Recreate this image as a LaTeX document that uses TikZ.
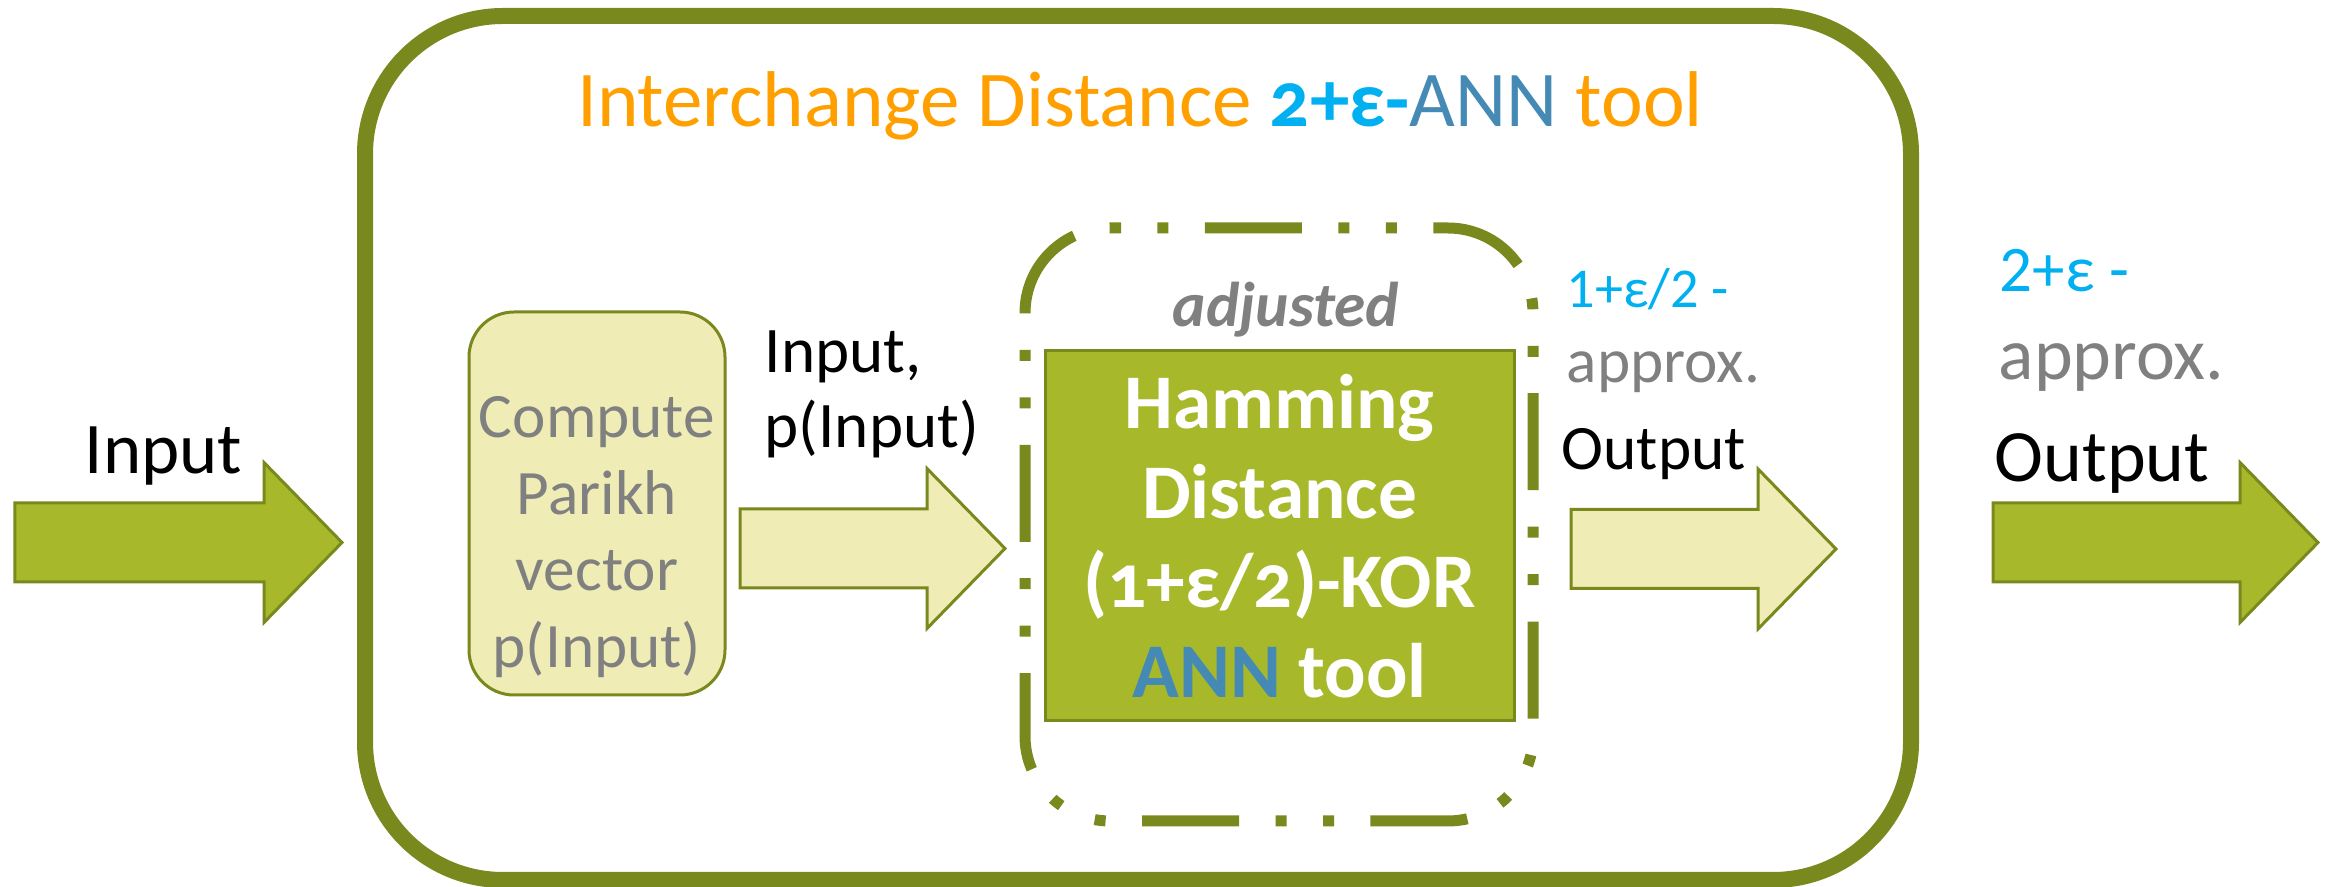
\documentclass[tikz,border=0pt]{standalone}
\usepackage{fontspec}
\setmainfont{Carlito}
\usetikzlibrary{calc}

\definecolor{olivedark}{RGB}{122,137,30}
\definecolor{olivefill}{RGB}{167,185,42}
\definecolor{palefill}{RGB}{239,237,181}
\definecolor{titleorange}{RGB}{255,160,0}
\definecolor{epscyan}{RGB}{0,176,240}
\definecolor{annblue}{RGB}{68,138,180}
\definecolor{labelgray}{RGB}{128,128,128}

% block arrow from tail coordinate to tip coordinate
\newcommand{\blockarrow}[3]{%
  \draw[#1] ($(#2)+(0,0.395)$) -- ($(#3)+(-0.78,0.395)$) -- ($(#3)+(-0.78,0.80)$) -- (#3)
    -- ($(#3)+(-0.78,-0.80)$) -- ($(#3)+(-0.78,-0.395)$) -- ($(#2)+(0,-0.395)$) -- cycle;}

\begin{document}
\begin{tikzpicture}[
  frame/.style = {draw=olivedark, line width=1.6mm, rounded corners=13.8mm, inner sep=0pt},
  adjline/.style = {draw=olivedark, line width=1.1mm, rounded corners=8.5mm,
    dash pattern=on 9.7mm off 3.647mm on 1.1mm off 3.647mm on 1.1mm off 3.647mm, dash phase=13.347mm},
  parikhbox/.style = {draw=olivedark, fill=palefill, line width=0.3mm, rounded corners=4.5mm, inner sep=0pt},
  korbox/.style = {draw=olivedark, fill=olivefill, line width=0.3mm, inner sep=0pt, align=center, text=white,
    font={\fontsize{22}{25.5}\selectfont\bfseries}},
  darkarrow/.style = {draw=olivedark, fill=olivefill, line width=0.3mm},
  palearrow/.style = {draw=olivedark, fill=palefill, line width=0.3mm},
  lbl/.style = {anchor=base west, inner sep=0pt}
]
\useasboundingbox (0,0) rectangle (23.29,8.86);

\node[frame, minimum width=154.6mm, minimum height=86.4mm] (toolframe) at (11.38,4.38) {};
\node[inner sep=0pt, anchor=base, text=titleorange, font={\fontsize{22.5}{26}\selectfont}] (title) at (11.40,7.59)
  {Interchange Distance {\color{epscyan}\bfseries\addfontfeatures{Numbers=OldStyle}2+ε-}{\color{annblue}ANN} tool};

\node[parikhbox, minimum width=25.6mm, minimum height=38.3mm] (parikh) at (5.97,3.825) {};
\node[inner sep=0pt, align=center, text=labelgray, font={\fontsize{18}{21.8}\selectfont}] (parikhtext) at (5.97,3.49)
  {Compute\\Parikh\\vector\\p(Input)};

% dash-dot-dot outline of the adjusted tool
\node[inner sep=0pt, outer sep=0pt, minimum width=50.8mm, minimum height=59.3mm] (adjusted) at (12.79,3.615) {};
\coordinate (adjstart) at ($(adjusted.north west)+(0.85,0)$);
\draw[adjline] (adjstart) -- (adjusted.north east) -- (adjusted.south east)
  -- (adjusted.south west) -- (adjusted.north west) -- (adjstart);
\node[inner sep=0pt, anchor=base, text=labelgray, font={\fontsize{18}{21}\selectfont\bfseries\itshape}] (adjlabel) at (12.86,5.59) {adjusted};
\node[korbox, minimum width=46.9mm, minimum height=37mm] (kor) at (12.795,3.50)
  {Hamming\\Distance\\{\addfontfeatures{Numbers=OldStyle}(1+ε/2)}-KOR\\\textcolor{annblue}{ANN} tool};

% input side
\node[lbl, font={\fontsize{20.7}{24}\selectfont}] (inlabel) at (0.84,4.12) {Input};
\coordinate (inTail) at (0.15,3.435);
\coordinate (inTip) at (3.42,3.435);
\blockarrow{darkarrow}{inTail}{inTip}

\node[inner sep=0pt, anchor=north west, align=left, font={\fontsize{18.5}{21.3}\selectfont}] (pairlabel) at (7.64,5.56) {Input,\\p(Input)};
\coordinate (pairTail) at (7.40,3.375);
\coordinate (pairTip) at (10.05,3.375);
\blockarrow{palearrow}{pairTail}{pairTip}

% inner output
\node[lbl, text=epscyan, font={\fontsize{16}{19}\selectfont}] (korfactor) at (15.66,5.78) {1+ε/2 -};
\node[lbl, text=labelgray, font={\fontsize{18}{21}\selectfont}] (korapprox) at (15.66,5.03) {approx.};
\node[lbl, font={\fontsize{18}{21}\selectfont}] (korout) at (15.61,4.16) {Output};
\coordinate (korTail) at (15.71,3.37);
\coordinate (korTip) at (18.36,3.37);
\blockarrow{palearrow}{korTail}{korTip}

% final output
\node[lbl, text=epscyan, font={\fontsize{18.5}{21}\selectfont}] (outfactor) at (19.99,5.94) {2+ε -};
\node[lbl, text=labelgray, font={\fontsize{21}{24}\selectfont}] (outapprox) at (19.98,5.06) {approx.};
\node[lbl, font={\fontsize{21}{24}\selectfont}] (outlabel) at (19.94,4.04) {Output};
\coordinate (outTail) at (19.93,3.435);
\coordinate (outTip) at (23.18,3.435);
\blockarrow{darkarrow}{outTail}{outTip}
\end{tikzpicture}
\end{document}
